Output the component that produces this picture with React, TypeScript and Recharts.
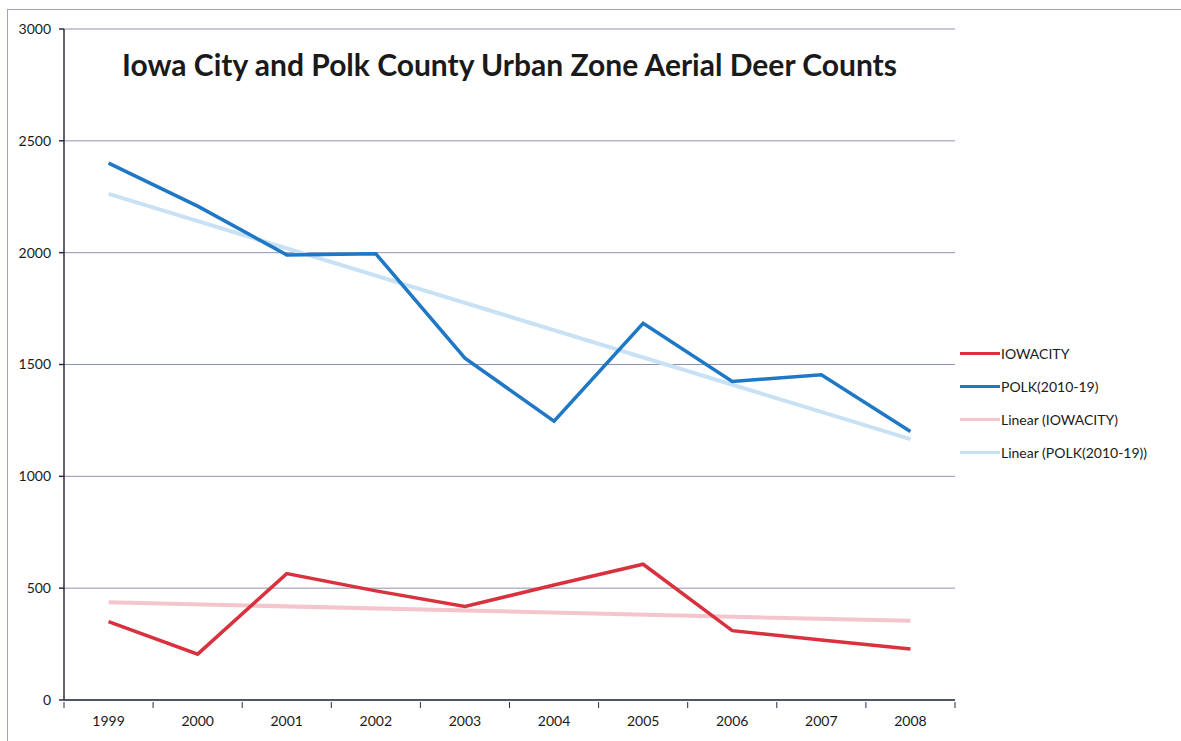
import { LineChart, Line, XAxis, YAxis, CartesianGrid } from 'recharts'

const years = ['1999', '2000', '2001', '2002', '2003', '2004', '2005', '2006', '2007', '2008']
const iowaCity = [350, 205, 565, 488, 418, 514, 607, 310, 268, 228]
const polk = [2400, 2208, 1990, 1995, 1528, 1247, 1684, 1424, 1454, 1200]
// trendline end points, joined straight across
const iowaTrend = [437, null, null, null, null, null, null, null, null, 354]
const polkTrend = [2263, null, null, null, null, null, null, null, null, 1166]
const yTicks = [0, 500, 1000, 1500, 2000, 2500, 3000]

const data = years.map((year, i) => ({
  year,
  iowa: iowaCity[i],
  polk: polk[i],
  iowaTrend: iowaTrend[i],
  polkTrend: polkTrend[i],
}))

const FONT = 'Lato, "Open Sans", sans-serif'
const BAND = (955 - 64) / years.length
const AXIS = '#2b2d42'

const legendItems = [
  { label: 'IOWACITY', color: '#d8323e' },
  { label: 'POLK(2010-19)', color: '#1e78c6' },
  { label: 'Linear (IOWACITY)', color: '#f4c5cc' },
  { label: 'Linear (POLK(2010-19))', color: '#c9e1f5' },
]

const XTick = ({ x, y, payload, index }: any) => (
  <g>
    <line x1={x - BAND / 2} y1={y - 6} x2={x - BAND / 2} y2={y} stroke={AXIS} />
    {index === years.length - 1 && (
      <line x1={x + BAND / 2} y1={y - 6} x2={x + BAND / 2} y2={y} stroke={AXIS} />
    )}
    <text x={x} y={y + 18} textAnchor="middle" fontSize={14} fill="#1a1a1a" fontFamily={FONT}>
      {payload.value}
    </text>
  </g>
)

export default function App() {
  return (
    <div style={{ position: 'absolute', left: 0, top: 0, width: 1181, height: 741, background: '#fff' }}>
      <div
        style={{
          position: 'absolute',
          left: 7,
          top: 9,
          right: 0,
          bottom: 0,
          borderLeft: '1px solid #a3a3c2',
          borderTop: '1px solid #a3a3c2',
        }}
      />
      <LineChart
        width={1181}
        height={741}
        data={data}
        margin={{ top: 29, right: 226, left: 10, bottom: 11 }}
        style={{ position: 'absolute', left: 0, top: 0 }}
      >
        <CartesianGrid vertical={false} stroke="#8f93b3" strokeWidth={1} />
        <XAxis
          dataKey="year"
          height={30}
          tickLine={false}
          tick={<XTick />}
          stroke={AXIS}
          strokeWidth={1.5}
          interval={0}
          padding={{ left: BAND / 2, right: BAND / 2 }}
        />
        <YAxis
          domain={[0, 3000]}
          ticks={yTicks}
          width={54}
          tickSize={5}
          tickMargin={8}
          stroke={AXIS}
          strokeWidth={1.5}
          tick={{ fontSize: 14, fill: '#1a1a1a', fontFamily: FONT }}
        />
        <Line dataKey="iowaTrend" stroke="#f4c5cc" strokeWidth={4} dot={false} connectNulls isAnimationActive={false} />
        <Line dataKey="polkTrend" stroke="#c9e1f5" strokeWidth={4} dot={false} connectNulls isAnimationActive={false} />
        <Line dataKey="iowa" stroke="#d8323e" strokeWidth={3.5} dot={false} isAnimationActive={false} />
        <Line dataKey="polk" stroke="#1e78c6" strokeWidth={3.5} dot={false} isAnimationActive={false} />
      </LineChart>
      <div
        style={{
          position: 'absolute',
          left: 64,
          width: 891,
          top: 46,
          textAlign: 'center',
          fontFamily: FONT,
          fontWeight: 700,
          fontSize: 30,
          color: '#1a1a1a',
        }}
      >
        Iowa City and Polk County Urban Zone Aerial Deer Counts
      </div>
      <div style={{ position: 'absolute', left: 960, top: 337, fontFamily: FONT, fontSize: 14, color: '#1a1a1a' }}>
        {legendItems.map((it) => (
          <div key={it.label} style={{ display: 'flex', alignItems: 'center', height: 33 }}>
            <div style={{ width: 40, height: 3, background: it.color, marginRight: 1 }} />
            <span>{it.label}</span>
          </div>
        ))}
      </div>
    </div>
  )
}
